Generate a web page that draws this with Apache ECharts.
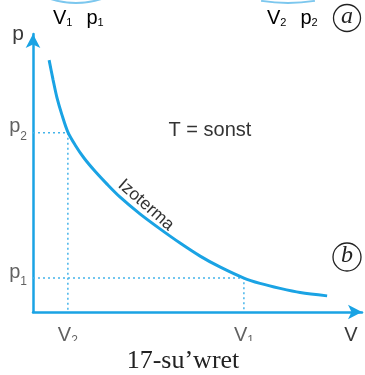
<!DOCTYPE html>
<html>
<head>
<meta charset="utf-8">
<script src="https://cdn.jsdelivr.net/npm/echarts@6/dist/echarts.min.js"></script>
<style>
  html, body { margin: 0; padding: 0; background: #fff; }
  #chart { width: 365px; height: 375px; }
</style>
</head>
<body>
<div id="chart"></div>
<script>
// isotherm p = const / V
const curveV = [0.49, 0.61, 0.73, 0.88, 1.06, 1.28, 1.55, 1.88, 2.25, 2.64, 3.25, 3.86, 4.47, 5.08, 5.68, 6.41, 6.90, 7.51, 8.12, 8.94];
const curveP = [9.06, 8.35, 7.70, 7.09, 6.47, 6.01, 5.54, 5.07, 4.60, 4.14, 3.53, 2.99, 2.48, 2.01, 1.62, 1.22, 1.03, 0.85, 0.70, 0.58];

// the two states on the curve
const stateNames = ["1", "2"];
const stateV = [6.41, 1.06];
const stateP = [1.22, 6.45];

const blue = "#1aa3e4";
const ink = "#3a3a3a";
const sans = "Liberation Sans";

function subStyle(drop, size) {
  return {
    m: { fontFamily: sans, fontSize: 20, lineHeight: 22, color: ink, verticalAlign: "top" },
    g: { fontFamily: sans, fontSize: 20, lineHeight: 22, color: ink, verticalAlign: "top", padding: [0, 0, 0, 14] },
    s: { fontFamily: sans, fontSize: size, lineHeight: size, color: ink, verticalAlign: "top", padding: [drop, 0, 0, 0] }
  };
}

let chart = echarts.init(document.getElementById("chart"));

let guides = stateNames.map((n, i) => ({
  type: "line",
  data: [[0, stateP[i]], [stateV[i], stateP[i]], [stateV[i], 0]],
  symbol: "none",
  silent: true,
  lineStyle: { color: "#45b4ea", width: 1.5, type: [2, 3] },
  z: 1
}));

let option = {
  animation: false,
  backgroundColor: "#fff",
  grid: { left: 33, right: 3, top: 34, bottom: 63 },
  xAxis: {
    type: "value", min: 0, max: 10,
    axisLine: { lineStyle: { color: blue, width: 2.5 }, symbol: ["none", "arrow"], symbolSize: [11, 14] },
    axisTick: { show: false }, axisLabel: { show: false }, splitLine: { show: false }
  },
  yAxis: {
    type: "value", min: 0, max: 10,
    name: "p", nameLocation: "end", nameGap: 0,
    nameTextStyle: { fontFamily: sans, fontSize: 21, color: ink, align: "right", verticalAlign: "middle", padding: [0, 9, 10, 0] },
    axisLine: { lineStyle: { color: blue, width: 2.5 }, symbol: ["none", "arrow"], symbolSize: [11, 14] },
    axisTick: { show: false }, axisLabel: { show: false }, splitLine: { show: false }
  },
  series: [
    ...guides,
    {
      type: "line",
      data: curveV.map((v, i) => [v, curveP[i]]),
      smooth: 0.3,
      symbol: "none",
      lineStyle: { color: blue, width: 3 },
      z: 3
    },
    {
      // p labels on the vertical axis
      type: "scatter",
      symbolSize: 0,
      data: stateNames.map((n, i) => ({ value: [0, stateP[i]], name: n })),
      label: {
        show: true, position: "left", distance: 6, offset: [0, -5],
        formatter: p => "{m|p}{s|" + p.name + "}", rich: subStyle(14, 12)
      }
    },
    {
      // V labels under the horizontal axis
      type: "scatter",
      symbolSize: 0,
      data: stateNames.map((n, i) => ({ value: [stateV[i], 0], name: n })),
      label: {
        show: true, position: "bottom", distance: 13,
        formatter: p => "{m|V}{s|" + p.name + "}", rich: subStyle(10, 12)
      }
    }
  ],
  graphic: [
    // bottoms of the vessels from the upper drawing
    { type: "arc", shape: { cx: 76, cy: -79, r: 82, startAngle: Math.PI * 0.4, endAngle: Math.PI * 0.6 }, style: { stroke: "#7cc7ee", lineWidth: 2, fill: null } },
    { type: "arc", shape: { cx: 288, cy: -169, r: 172, startAngle: Math.PI * 0.45, endAngle: Math.PI * 0.55 }, style: { stroke: "#7cc7ee", lineWidth: 2, fill: null } },
    { type: "text", left: 53, top: 8, style: { text: "{m|V}{s|1}{g|p}{s|1}", rich: subStyle(9, 11) } },
    { type: "text", left: 267, top: 8, style: { text: "{m|V}{s|2}{g|p}{s|2}", rich: subStyle(9, 11) } },
    { type: "circle", shape: { cx: 347, cy: 18, r: 13.5 }, style: { stroke: "#222", lineWidth: 1.3, fill: "none" } },
    { type: "text", x: 347, y: 17, style: { text: "a", font: "italic 24px 'Liberation Serif'", fill: "#222", align: "center", verticalAlign: "middle" } },
    { type: "circle", shape: { cx: 347, cy: 257, r: 14 }, style: { stroke: "#222", lineWidth: 1.3, fill: "none" } },
    { type: "text", x: 347, y: 256, style: { text: "b", font: "italic 24px 'Liberation Serif'", fill: "#222", align: "center", verticalAlign: "middle" } },
    { type: "text", x: 210, y: 130, style: { text: "T = sonst", font: "20px 'Liberation Sans'", fill: "#333", align: "center", verticalAlign: "middle" } },
    { type: "text", x: 146, y: 205, rotation: -0.72, style: { text: "Izoterma", font: "17.5px 'Liberation Sans'", fill: "#333", align: "center", verticalAlign: "middle" } },
    // axis name V, cut by the edge of the figure
    { type: "text", x: 351, y: 325, style: { text: "V", font: "20px 'Liberation Sans'", fill: ink, align: "center", verticalAlign: "top" } },
    // the figure is cut off here, caption below
    { type: "rect", shape: { x: 0, y: 341, width: 365, height: 34 }, style: { fill: "#fff" }, z: 100 },
    { type: "text", x: 183, y: 361, z: 101, style: { text: "17-su\u2019wret", font: "26px 'Liberation Serif'", fill: "#222", align: "center", verticalAlign: "middle" } }
  ]
};
chart.setOption(option);
</script>
</body>
</html>
